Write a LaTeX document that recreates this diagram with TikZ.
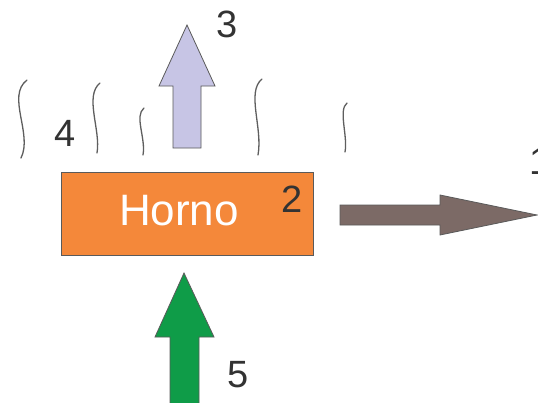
\documentclass[tikz,border=0pt]{standalone}
\usepackage{fontspec}
\setmainfont{Liberation Sans}
\definecolor{ovenorange}{HTML}{F4883A}
\definecolor{exhaust}{HTML}{C7C5E5}
\definecolor{feedgreen}{HTML}{0F9C48}
\definecolor{outbrown}{HTML}{7C6A66}
\definecolor{edgegray}{HTML}{5A5A5A}
\definecolor{wavegray}{HTML}{5E5E5E}
\tikzset{
  blockarrow/.style={draw=edgegray, line width=0.8pt, line join=miter},
  heatwave/.style={draw=wavegray, line width=1.3pt, line cap=round},
  tag/.style={font=\fontsize{38}{38}\selectfont, text=black!80, inner sep=0pt},
}
\begin{document}
\begin{tikzpicture}[x=1pt,y=-1pt]
\useasboundingbox (0,0) rectangle (538,402);
\fill[white] (0,0) rectangle (538,402);

% furnace body
\node[draw=edgegray, line width=0.8pt, fill=ovenorange, minimum width=252pt,
      minimum height=83pt, inner sep=0pt] (oven) at (187,213.5) {};
\node[text=white, font=\fontsize{44}{44}\selectfont, inner sep=0pt] (ovenlabel) at (179,211) {Horno};

% rising heat
\draw[heatwave] (27,80) .. controls (6,96) and (33,134) .. (21,158);
\draw[heatwave] (100,83) .. controls (84,96) and (101,130) .. (97,153);
\draw[heatwave] (144,108) .. controls (134,116) and (146,138) .. (143,155);
\draw[heatwave] (262,79) .. controls (246,92) and (263,128) .. (258,155);
\draw[heatwave] (347,103) .. controls (338,110) and (348,136) .. (345,152);

% exhaust gases (up)
\filldraw[blockarrow, fill=exhaust]
  (173,148) -- (173,86) -- (159,86) -- (187,25) -- (215,86) -- (201,86) -- (201,148) -- cycle;

% feed (up, from below)
\filldraw[blockarrow, fill=feedgreen]
  (170,404) -- (170,337) -- (155,337) -- (184,273) -- (214,337) -- (199,337) -- (199,404) -- cycle;

% product (right)
\filldraw[blockarrow, fill=outbrown]
  (340,205) -- (440,205) -- (440,195) -- (537,215) -- (440,235) -- (440,225) -- (340,225) -- cycle;

% stream numbers (stream 1 runs off the right edge)
\node[tag] (n1) at (540,161) {1};
\node[tag] (n2) at (292,199) {2};
\node[tag] (n3) at (227,24) {3};
\node[tag] (n4) at (65,133) {4};
\node[tag] (n5) at (238,375) {5};
\end{tikzpicture}
\end{document}
